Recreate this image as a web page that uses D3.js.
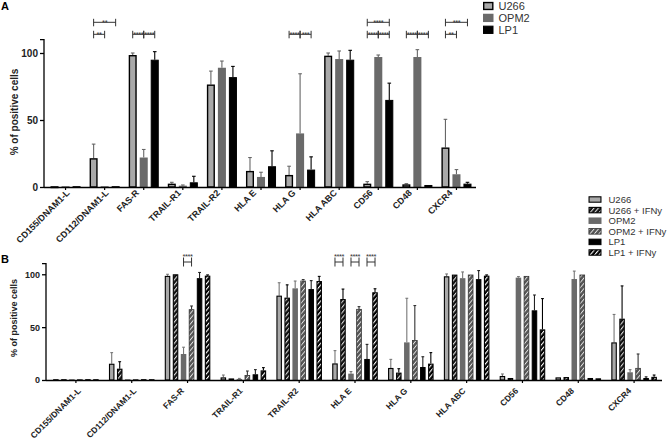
<!DOCTYPE html>
<html><head><meta charset="utf-8">
<script src="https://cdn.jsdelivr.net/npm/d3@7"></script>
<style>body{margin:0;background:#fff} svg{display:block} text{font-family:Arial,"Liberation Sans",sans-serif}</style>
</head><body><svg id="c" width="669" height="441"></svg>
<script>
// ---------- DATA ----------
const categories = ["CD155/DNAM1-L","CD112/DNAM1-L","FAS-R","TRAIL-R1","TRAIL-R2","HLA E","HLA G","HLA ABC","CD56","CD48","CXCR4"];
const yTicks = [0, 50, 100];
const yLabel = "% of positive cells";

// Panel A
const seriesA = ["U266","OPM2","LP1"];
const a_U266     = [0.3, 21.5, 98.5, 2.5, 76.5, 12,   9,   98,   2.5, 2,   29.5];
const a_U266_err = [0.3, 32,  100,   3.5, 86.5, 22,  15.5, 100,   4,   2.5, 50.5];
const a_OPM2     = [0,   0,    22,   1,   89,   7.5, 40,   95.5, 97,  97,  9.5];
const a_OPM2_err = [0,   0,    28,   1.5, 94,   11,  84.5, 101.5, 98.5, 102.5, 13];
const a_LP1      = [0.5, 0.5,  95,   3.5, 82,  15.5, 13,   95,   65,  1.5, 2.5];
const a_LP1_err  = [0.5, 0.5, 101,   8,   90,  27,  22.5, 102,   77.5, 1.5, 3.5];
// significance A: [category, seriesFrom, seriesTo, tier, stars]
const sigA = [
  ["CD112/DNAM1-L","U266","OPM2",0,"**"],
  ["CD112/DNAM1-L","U266","LP1",1,"**"],
  ["FAS-R","U266","OPM2",0,"****"],
  ["FAS-R","OPM2","LP1",0,"****"],
  ["HLA G","U266","OPM2",0,"****"],
  ["HLA G","OPM2","LP1",0,"***"],
  ["CD56","U266","OPM2",0,"****"],
  ["CD56","OPM2","LP1",0,"****"],
  ["CD56","U266","LP1",1,"****"],
  ["CD48","U266","OPM2",0,"****"],
  ["CD48","OPM2","LP1",0,"****"],
  ["CXCR4","U266","OPM2",0,"**"],
  ["CXCR4","U266","LP1",1,"***"]
];

// Panel B
const seriesB = ["U266","U266 + IFNy","OPM2","OPM2 + IFNy","LP1","LP1 + IFNy"];
const b_U266        = [0.3, 15.4, 98.5, 2.5, 79.8, 15.7, 11.4, 98.1, 3.8, 2.5, 35.6];
const b_U266_err    = [0.3, 25.9, 100,  4.7, 92,   27.8, 19.5, 100.3, 5.7, 2.5, 62];
const b_U266i       = [0.3, 10.7, 100,  1.5, 77.9, 76.6, 7,    99.7, 1.9, 2.8, 58];
const b_U266i_err   = [0.3, 17.3, 100,  1.5, 90,   86,   10.7, 99.7, 1.9, 2.8, 89];
const b_OPM2        = [0,   0,    24.6, 1,   86.7, 6,    35.6, 96.3, 96.8, 95.5, 7.3];
const b_OPM2_err    = [0,   0,    31,   1.5, 93.6, 8,    77.3, 102.2, 97.8, 103, 9.8];
const b_OPM2i       = [0,   0,    66.9, 4.7, 94,   67.2, 37.8, 99.7, 98.4, 99.7, 11.4];
const b_OPM2i_err   = [0,   0,    70,   8.5, 95,   69.4, 70.4, 99.7, 98.4, 99.7, 24.6];
const b_LP1         = [0.3, 0.7,  96.3, 5.4, 86,   19.9, 12.3, 95.4, 65.9, 1.9, 1.9];
const b_LP1_err     = [0.3, 0.7, 101.7, 9.8, 94,   33.7, 22,   103.5, 80.4, 1.9, 3];
const b_LP1i        = [0.3, 0.7,  98.7, 9.1, 93.6, 83,   15.5, 98.7, 47.9, 1.6, 3];
const b_LP1i_err    = [0.3, 0.7,  99.4, 11.7, 98,  86.3, 25.9, 99.4, 77,   1.6, 4.7];
const sigB = [
  ["FAS-R","OPM2","OPM2 + IFNy","****"],
  ["HLA E","U266","U266 + IFNy","****"],
  ["HLA E","OPM2","OPM2 + IFNy","****"],
  ["HLA E","LP1","LP1 + IFNy","****"]
];

// ---------- STYLES ----------
const svg = d3.select("#c");
const defs = svg.append("defs");
function stripe(id, base, line, w) {
  const p = defs.append("pattern").attr("id", id).attr("patternUnits","userSpaceOnUse")
    .attr("width", 3.4).attr("height", 3.4).attr("patternTransform","rotate(40)");
  p.append("rect").attr("width",3.4).attr("height",3.4).attr("fill",base);
  p.append("rect").attr("x",0).attr("width",w).attr("height",3.4).attr("fill",line);
}
stripe("pU", "#111", "#dcdcdc", 1.1);
stripe("pO", "#555", "#e6e6e6", 0.9);
stripe("pL", "#000", "#ffffff", 1.1);
const styleA = {
  "U266": {fill:"#a9a9a9", stroke:"#000", sw:1.4, err:"#666"},
  "OPM2": {fill:"#6a6a6a", stroke:"none", sw:0, err:"#666"},
  "LP1":  {fill:"#000", stroke:"#000", sw:1, err:"#000"}
};
const styleB = {
  "U266": {fill:"#a9a9a9", stroke:"#000", sw:1.1, err:"#777"},
  "U266 + IFNy": {fill:"url(#pU)", stroke:"#000", sw:1.1, err:"#000"},
  "OPM2": {fill:"#6a6a6a", stroke:"none", sw:0, err:"#777"},
  "OPM2 + IFNy": {fill:"url(#pO)", stroke:"#333", sw:0.8, err:"#333"},
  "LP1": {fill:"#000", stroke:"#000", sw:1, err:"#222"},
  "LP1 + IFNy": {fill:"url(#pL)", stroke:"#000", sw:1.1, err:"#000"}
};

function panel(cfg) {
  const g = svg.append("g");
  const x = d3.scaleBand().domain(categories).range(cfg.xr);
  const xs = d3.scaleBand().domain(cfg.series).range([0, x.bandwidth()])
    .paddingInner(cfg.pi).paddingOuter(cfg.po);
  const y = d3.scaleLinear().domain([0, 110]).range(cfg.yr);

  // bars
  cfg.series.forEach((s, si) => {
    const vals = cfg.vals[si], errs = cfg.errs[si], st = cfg.style[s];
    categories.forEach((c, ci) => {
      const bx = x(c) + xs(s), bw = xs.bandwidth();
      const v = vals[ci], e = errs[ci];
      const cx = bx + bw / 2;
      if (e > v + 0.3) {
        g.append("line").attr("x1", cx).attr("x2", cx).attr("y1", y(v)).attr("y2", y(e))
          .attr("stroke", st.err).attr("stroke-width", cfg.ew);
        g.append("line").attr("x1", cx - cfg.cap).attr("x2", cx + cfg.cap).attr("y1", y(e)).attr("y2", y(e))
          .attr("stroke", st.err).attr("stroke-width", cfg.ew);
      }
      const h = Math.max(y(0) - y(v), 0.8);
      g.append("rect").attr("x", bx + st.sw/2).attr("y", y(0) - h + st.sw/2)
        .attr("width", bw - st.sw).attr("height", Math.max(h - st.sw/2, 0.6))
        .attr("fill", st.fill).attr("stroke", st.stroke).attr("stroke-width", st.sw);
    });
  });

  // y axis
  const ya = g.append("g").attr("transform", `translate(${cfg.xr[0] - 2},0)`)
    .call(d3.axisLeft(y).tickValues(yTicks).tickSize(4).tickPadding(2));
  ya.select(".domain").attr("d", `M-4,${y(110)}H0V${y(0)}`).attr("stroke-width", 1.3);
  ya.selectAll(".tick line").attr("stroke-width", 1.3);
  ya.selectAll("text").attr("font-size", cfg.tfs).attr("font-weight", "bold").attr("fill", "#222");

  // x axis
  const xa = g.append("g").attr("transform", `translate(0,${y(0)})`)
    .call(d3.axisBottom(x).tickSize(3).tickSizeOuter(0).tickFormat(""));
  xa.select(".domain").attr("d", `M${cfg.xr[0]-2},0.5H${cfg.xr[1]}`).attr("stroke-width", 1.3);
  xa.selectAll(".tick line").attr("stroke-width", 1.2);
  // rotated category labels (-45 deg)
  g.append("g").selectAll("text").data(categories).join("text")
    .attr("text-anchor", "end").attr("font-size", cfg.xfs).attr("font-weight", "bold")
    .attr("fill", "#222").text(c => c)
    .attr("transform", function(c) {
      const len = this.getComputedTextLength();
      return `translate(${x(c) + x.bandwidth()/2 + cfg.lx + 0.2 * len},${y(0) + cfg.ly}) rotate(-45)`;
    });

  // y label
  g.append("text").attr("transform", `translate(${cfg.ylx},${cfg.yly}) rotate(-90)`)
    .attr("text-anchor", "middle").attr("font-size", cfg.ylfs).attr("font-weight", "bold")
    .attr("fill", "#222").text(yLabel);
  // panel letter
  g.append("text").attr("x", 1).attr("y", cfg.letterY).attr("font-size", 11).attr("font-weight", "bold").text(cfg.letter);

  // significance
  cfg.sig.forEach(sg => {
    const [c, s1, s2, tier, lab] = sg;
    const x1 = x(c) + xs(s1) + xs.bandwidth()/2, x2 = x(c) + xs(s2) + xs.bandwidth()/2;
    const ly = cfg.sigY[tier];
    g.append("path").attr("d", `M${x1},${ly-cfg.tk[0]}V${ly+cfg.tk[1]}M${x1},${ly}H${x2}M${x2},${ly-cfg.tk[0]}V${ly+cfg.tk[1]}`)
      .attr("stroke", "#333").attr("stroke-width", 1).attr("fill", "none");
    g.append("text").attr("x", (x1 + x2)/2).attr("y", ly + cfg.starDy).attr("text-anchor", "middle")
      .attr("font-size", cfg.sfs).attr("letter-spacing", -0.4).attr("fill", "#333").text(lab);
  });

  // legend
  cfg.series.forEach((s, i) => {
    const st = cfg.style[s];
    const ly = cfg.leg.y + i * cfg.leg.dy;
    g.append("rect").attr("x", cfg.leg.x + st.sw/2).attr("y", ly - cfg.leg.h/2 + st.sw/2)
      .attr("width", cfg.leg.w - st.sw).attr("height", cfg.leg.h - st.sw)
      .attr("fill", st.fill).attr("stroke", st.stroke).attr("stroke-width", st.sw);
    g.append("text").attr("x", cfg.leg.x + cfg.leg.w + cfg.leg.gap).attr("y", ly).attr("dy", "0.36em")
      .attr("font-size", cfg.leg.fs).attr("fill", "#333").text(s);
  });
}

panel({
  letter: "A", letterY: 10,
  series: seriesA, vals: [a_U266, a_OPM2, a_LP1], errs: [a_U266_err, a_OPM2_err, a_LP1_err],
  style: styleA, xr: [46, 476], yr: [187, 39.6], pi: 0.27, po: 0.41,
  ew: 1.1, cap: 1.8, tfs: 10, xfs: 9, lx: -9.5, ly: 6.5,
  ylx: 18, yly: 112, ylfs: 10,
  sig: sigA, sigY: [34.3, 22.3], tk: [3.5, 4], starDy: 2.5, sfs: 7.5,
  leg: {x: 483, y: 6, dy: 11.9, w: 10.5, h: 8.3, gap: 5, fs: 11}
});

panel({
  letter: "B", letterY: 263,
  series: seriesB,
  vals: [b_U266, b_U266i, b_OPM2, b_OPM2i, b_LP1, b_LP1i],
  errs: [b_U266_err, b_U266i_err, b_OPM2_err, b_OPM2i_err, b_LP1_err, b_LP1i_err],
  style: styleB, xr: [48, 662], yr: [380, 263.7], pi: 0.31, po: 0.64,
  ew: 1.1, cap: 1.4, tfs: 9, xfs: 8.5, lx: -8, ly: 11.5,
  ylx: 17, yly: 318, ylfs: 9,
  sig: sigB.map(d => [d[0], d[1], d[2], 0, d[3]]), sigY: [262], tk: [4.5, 4.5], starDy: -3, sfs: 7.5,
  leg: {x: 588.5, y: 199.5, dy: 10.6, w: 13, h: 6.5, gap: 7, fs: 9.5}
});
</script></body></html>
